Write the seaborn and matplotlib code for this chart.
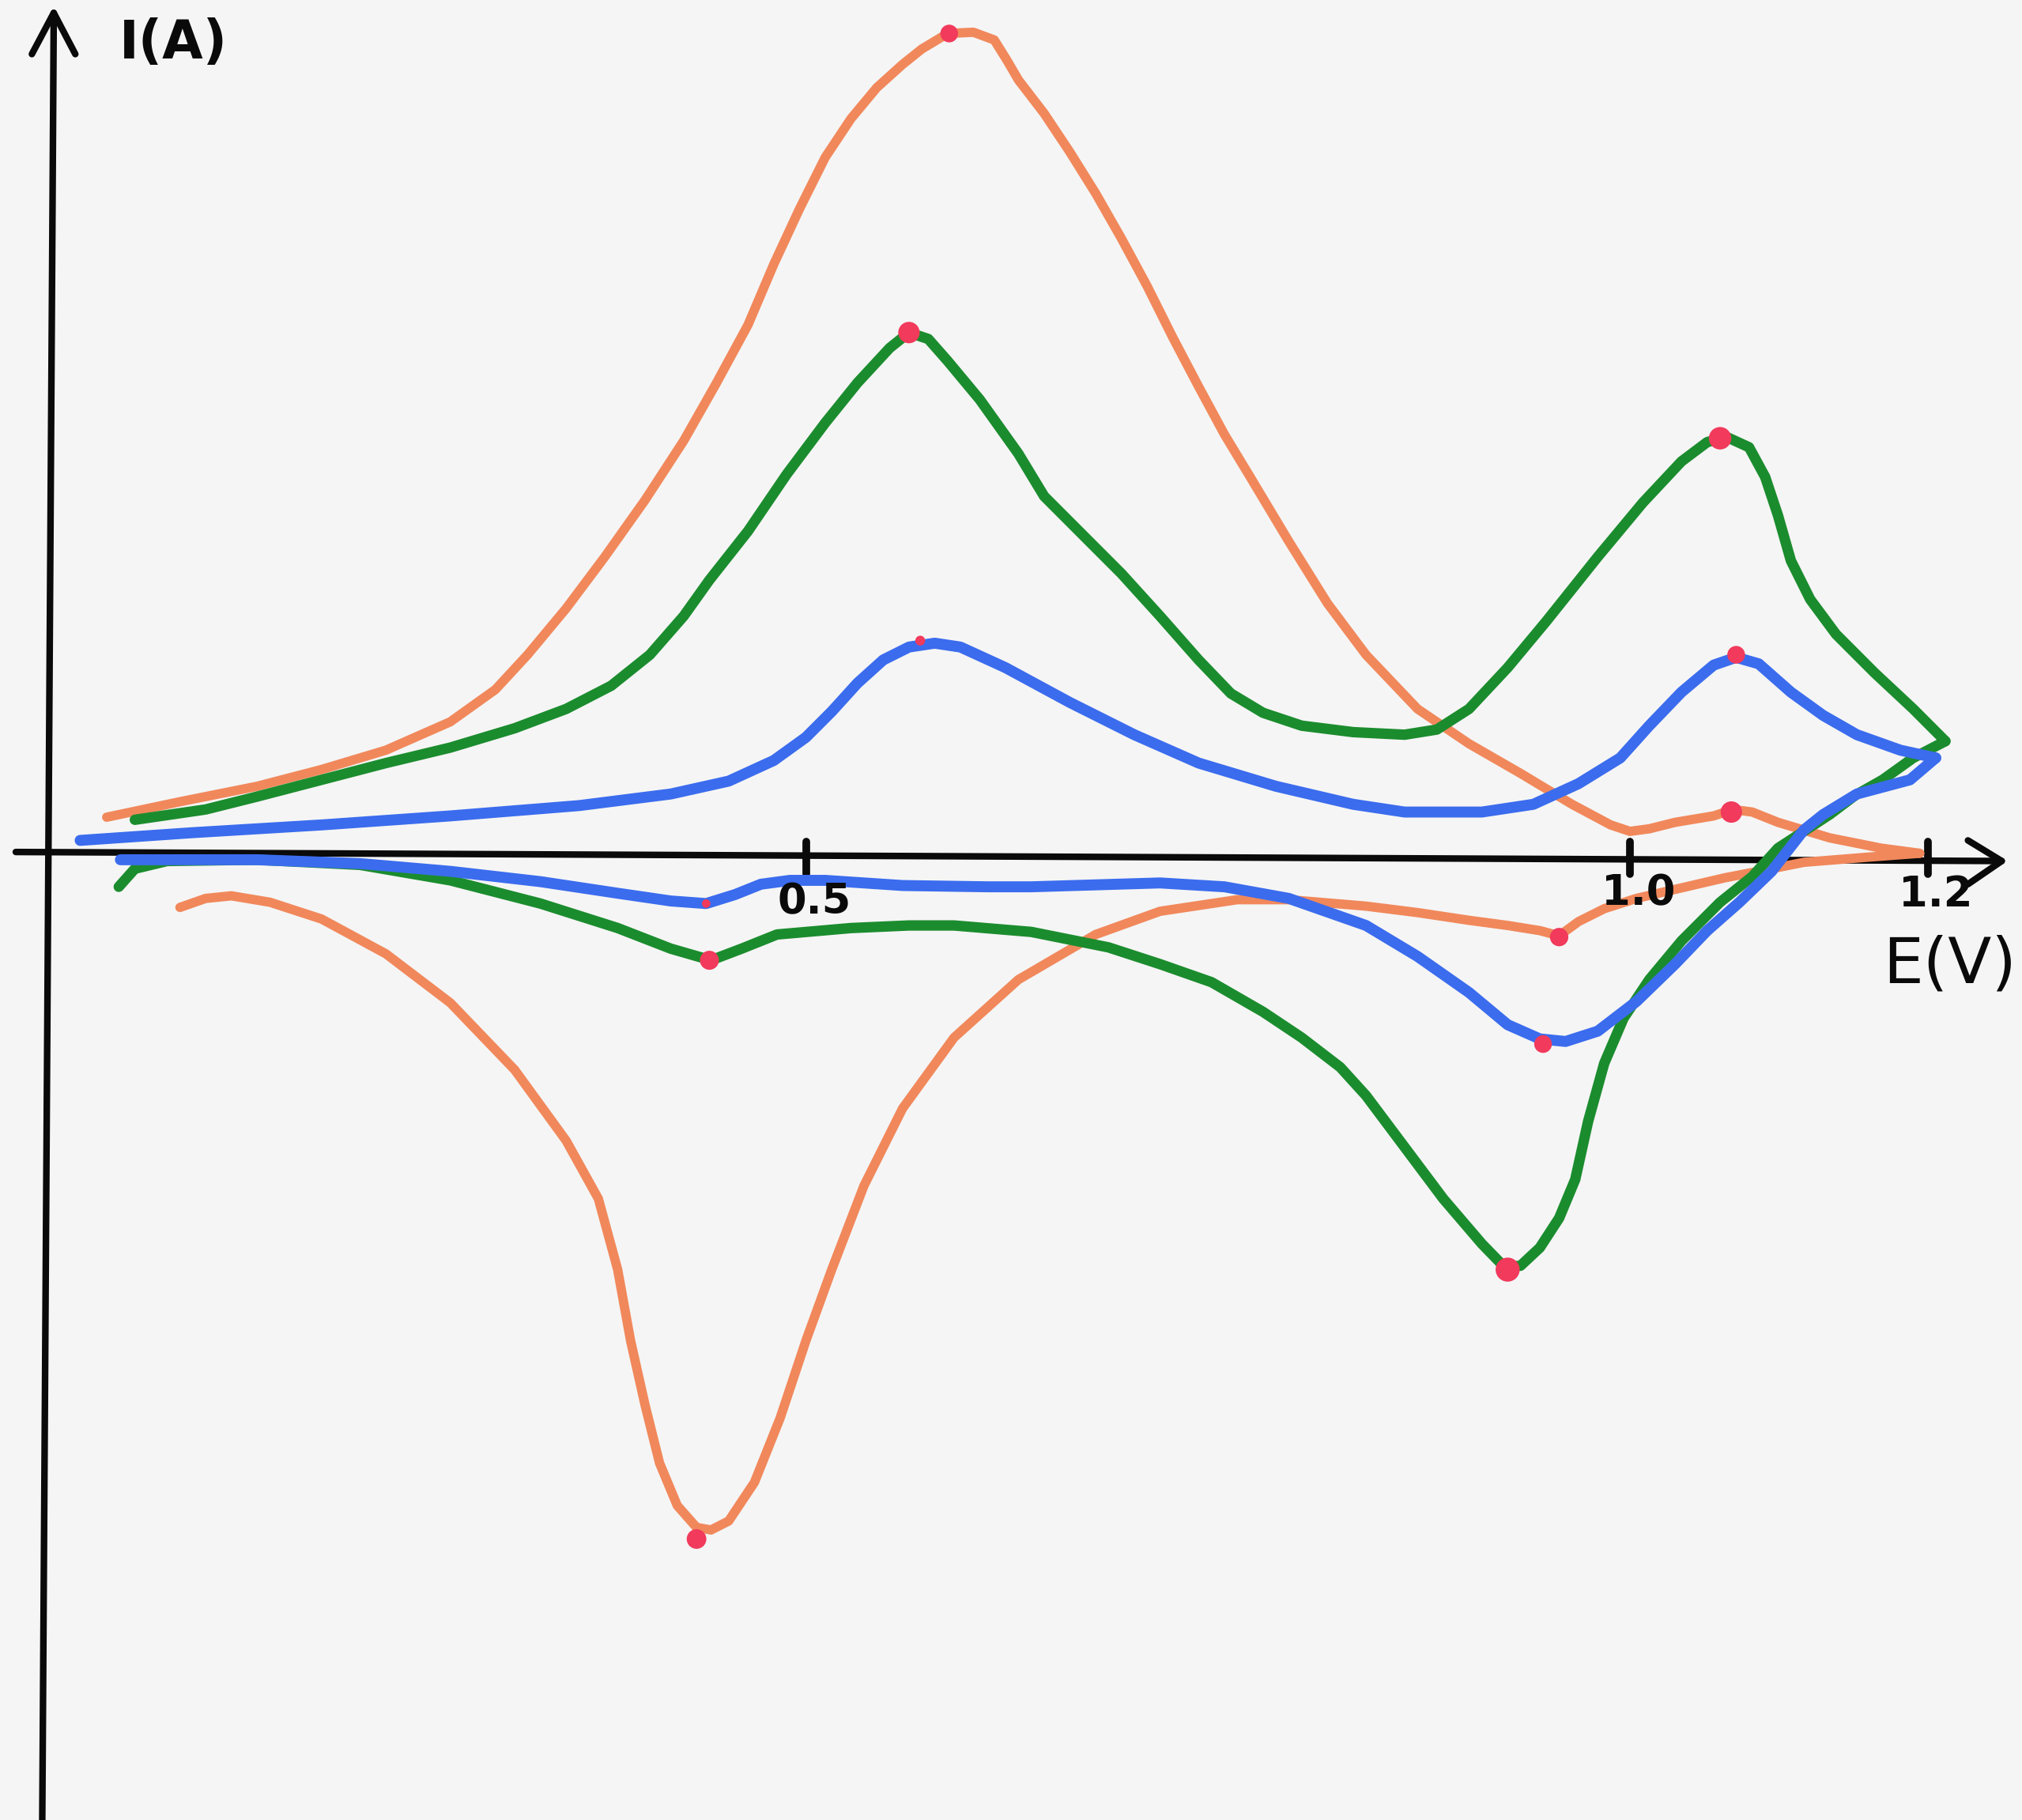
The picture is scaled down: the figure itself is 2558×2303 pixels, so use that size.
import matplotlib
matplotlib.use("Agg")
import numpy as np
import pandas as pd
import matplotlib.pyplot as plt
import seaborn as sns

# ---------------- data (E in V, I in arbitrary units) ----------------
orange_fwd_E = [0.0625, 0.108, 0.156, 0.196, 0.236, 0.276, 0.304, 0.324, 0.348, 0.372, 0.397, 0.421,
                0.441, 0.461, 0.477, 0.493, 0.509, 0.525, 0.541, 0.557, 0.569, 0.585, 0.601, 0.614,
                0.622, 0.629, 0.645, 0.661, 0.677, 0.693, 0.709, 0.725, 0.741, 0.757, 0.773, 0.797,
                0.821, 0.845, 0.877, 0.909, 0.941, 0.973, 0.997, 1.009, 1.021, 1.037, 1.061, 1.073,
                1.085, 1.101, 1.133, 1.165, 1.189]
orange_fwd_I = [0.29, 0.41, 0.53, 0.66, 0.81, 1.03, 1.28, 1.55, 1.91, 2.31, 2.75, 3.21,
                3.65, 4.11, 4.58, 5.01, 5.41, 5.71, 5.95, 6.13, 6.25, 6.37, 6.38, 6.32,
                6.16, 6.01, 5.75, 5.45, 5.13, 4.78, 4.41, 4.01, 3.63, 3.26, 2.93, 2.43,
                1.95, 1.55, 1.13, 0.86, 0.63, 0.39, 0.23, 0.18, 0.20, 0.25, 0.30, 0.35,
                0.33, 0.25, 0.13, 0.05, 0.01]
orange_rev_E = [1.189, 1.157, 1.117, 1.093, 1.068, 1.037, 1.013, 0.993, 0.977, 0.965, 0.953, 0.933,
                0.909, 0.877, 0.845, 0.797, 0.765, 0.717, 0.677, 0.629, 0.589, 0.557, 0.533, 0.513,
                0.497, 0.481, 0.465, 0.449, 0.438, 0.429, 0.417, 0.406, 0.397, 0.388, 0.380, 0.368,
                0.348, 0.316, 0.276, 0.236, 0.196, 0.164, 0.140, 0.124, 0.108]
orange_rev_I = [0.01, -0.02, -0.06, -0.12, -0.18, -0.27, -0.34, -0.42, -0.52, -0.63, -0.59, -0.55,
                -0.51, -0.45, -0.40, -0.35, -0.35, -0.44, -0.62, -0.97, -1.42, -1.97, -2.57, -3.22,
                -3.77, -4.37, -4.87, -5.17, -5.24, -5.22, -5.05, -4.72, -4.27, -3.77, -3.22, -2.67,
                -2.22, -1.67, -1.15, -0.77, -0.50, -0.37, -0.32, -0.34, -0.41]

green_fwd_E = [0.080, 0.124, 0.156, 0.196, 0.236, 0.276, 0.316, 0.348, 0.376, 0.400, 0.421, 0.437,
               0.461, 0.485, 0.509, 0.529, 0.549, 0.561, 0.573, 0.585, 0.605, 0.629, 0.645, 0.669,
               0.693, 0.717, 0.741, 0.761, 0.781, 0.805, 0.837, 0.869, 0.889, 0.909, 0.933, 0.957,
               0.989, 1.017, 1.041, 1.057, 1.069, 1.083, 1.093, 1.101, 1.109, 1.121, 1.137, 1.161,
               1.185, 1.205]
green_fwd_I = [0.27, 0.35, 0.45, 0.58, 0.71, 0.83, 0.98, 1.13, 1.31, 1.55, 1.85, 2.13,
               2.51, 2.95, 3.35, 3.66, 3.93, 4.05, 4.00, 3.83, 3.53, 3.11, 2.78, 2.48,
               2.18, 1.85, 1.51, 1.25, 1.10, 1.00, 0.95, 0.93, 0.97, 1.13, 1.45, 1.81,
               2.31, 2.73, 3.05, 3.20, 3.24, 3.16, 2.93, 2.63, 2.28, 1.98, 1.71, 1.41,
               1.13, 0.88]
green_rev_E = [1.205, 1.185, 1.166, 1.149, 1.133, 1.117, 1.101, 1.085, 1.065, 1.041, 1.021, 1.005,
               0.993, 0.983, 0.975, 0.965, 0.953, 0.941, 0.931, 0.917, 0.893, 0.869, 0.845, 0.829,
               0.805, 0.781, 0.749, 0.717, 0.685, 0.637, 0.589, 0.561, 0.525, 0.479, 0.457, 0.438,
               0.413, 0.380, 0.332, 0.276, 0.220, 0.156, 0.100, 0.080, 0.070]
green_rev_I = [0.88, 0.75, 0.58, 0.46, 0.31, 0.18, 0.05, -0.17, -0.37, -0.67, -0.97, -1.27,
               -1.62, -2.07, -2.52, -2.82, -3.05, -3.19, -3.20, -3.02, -2.67, -2.27, -1.87, -1.65,
               -1.42, -1.22, -0.99, -0.85, -0.72, -0.60, -0.55, -0.55, -0.57, -0.62, -0.73, -0.82,
               -0.73, -0.57, -0.38, -0.20, -0.08, -0.04, -0.05, -0.11, -0.25]

blue_fwd_E = [0.046, 0.116, 0.196, 0.276, 0.356, 0.413, 0.449, 0.477, 0.497, 0.513, 0.529, 0.545,
              0.561, 0.577, 0.593, 0.621, 0.661, 0.701, 0.741, 0.789, 0.837, 0.869, 0.917, 0.949,
              0.977, 1.003, 1.021, 1.041, 1.061, 1.075, 1.089, 1.109, 1.129, 1.150, 1.177, 1.199]
blue_fwd_I = [0.11, 0.17, 0.23, 0.30, 0.38, 0.47, 0.57, 0.73, 0.91, 1.11, 1.33, 1.51,
              1.61, 1.64, 1.61, 1.45, 1.18, 0.93, 0.71, 0.53, 0.39, 0.33, 0.33, 0.39,
              0.55, 0.75, 1.00, 1.26, 1.47, 1.53, 1.48, 1.26, 1.08, 0.93, 0.81, 0.75]
blue_rev_E = [1.199, 1.183, 1.150, 1.129, 1.117, 1.097, 1.077, 1.057, 1.037, 1.013, 0.989, 0.969,
              0.953, 0.933, 0.909, 0.877, 0.845, 0.797, 0.757, 0.717, 0.637, 0.610, 0.557, 0.509,
              0.487, 0.469, 0.453, 0.435, 0.413, 0.380, 0.332, 0.276, 0.220, 0.156, 0.071]
blue_rev_I = [0.75, 0.58, 0.47, 0.31, 0.19, -0.13, -0.37, -0.59, -0.85, -1.14, -1.37, -1.45,
              -1.43, -1.32, -1.07, -0.79, -0.55, -0.34, -0.25, -0.22, -0.25, -0.25, -0.24, -0.20,
              -0.20, -0.23, -0.31, -0.38, -0.36, -0.30, -0.21, -0.13, -0.07, -0.04, -0.04]

# peak markers
peak_E = [0.586, 1.072, 0.965, 0.429,
          0.561, 1.065, 0.933, 0.437,
          0.568, 1.075, 0.955, 0.435]
peak_I = [6.37, 0.33, -0.64, -5.31,
          4.05, 3.23, -3.22, -0.82,
          1.66, 1.55, -1.47, -0.38]
peak_size = [260, 380, 280, 320,
             380, 420, 480, 300,
             80, 260, 260, 60]

tick_pos = [0.497, 1.009, 1.194]
tick_labels = ["0.5", "1.0", "1.2"]
x_label = "E(V)"
y_label = "I(A)"

# ---------------- style ----------------
BG = "#F5F5F5"
ORANGE = "#F1885B"
GREEN = "#1B8C2E"
BLUE = "#3B6CEE"
RED = "#F13A5C"
INK = "#0A0A0A"

sns.set_theme(style="white")
plt.rcParams['font.family'] = ['DejaVu Sans']

fig = plt.figure(figsize=(25.58, 23.03), dpi=100, facecolor=BG)
ax = fig.add_axes([0, 0, 1, 1])
ax.set_facecolor(BG)
ax.set_xlim(-0.0038, 1.2526)
ax.set_ylim(-7.49, 6.63)
ax.axis('off')

# hand-drawn axes
AX_LW = 6
ax.plot([0.0296, 0.0224], [6.53, -7.60], color=INK, lw=AX_LW, solid_capstyle='round', zorder=1)
ax.plot([0.016, 0.0296, 0.043], [6.21, 6.53, 6.21], color=INK, lw=AX_LW,
        solid_capstyle='round', solid_joinstyle='round', zorder=1)
ax.plot([0.006, 1.240], [0.02, -0.05], color=INK, lw=AX_LW, solid_capstyle='round', zorder=1)
ax.plot([1.219, 1.240, 1.219], [0.11, -0.05, -0.23], color=INK, lw=AX_LW,
        solid_capstyle='round', solid_joinstyle='round', zorder=1)
for tp in tick_pos:
    ax.plot([tp, tp], [0.10, -0.15], color=INK, lw=7, solid_capstyle='round', zorder=1)

label_y = [-0.37, -0.30, -0.31]
for tp, tl, ly in zip(tick_pos, tick_labels, label_y):
    ax.text(tp + 0.005, ly, tl, ha='center', va='center', fontsize=38,
            fontweight='bold', color=INK, zorder=5)
ax.text(0.104, 6.29, y_label, ha='center', va='center', fontsize=48,
        fontweight='bold', color=INK)
ax.text(1.166, -0.86, x_label, ha='left', va='center', fontsize=58, color=INK)


def branch_df(E, I, name):
    return pd.DataFrame({"E": E, "I": I, "branch": name})


series = [
    (orange_fwd_E, orange_fwd_I, orange_rev_E, orange_rev_I, ORANGE, 8.5),
    (green_fwd_E, green_fwd_I, green_rev_E, green_rev_I, GREEN, 9.5),
    (blue_fwd_E, blue_fwd_I, blue_rev_E, blue_rev_I, BLUE, 10.0),
]
for fE, fI, rE, rI, col, lw in series:
    df = pd.concat([branch_df(fE, fI, "forward"), branch_df(rE, rI, "reverse")],
                   ignore_index=True)
    sns.lineplot(data=df, x="E", y="I", units="branch", estimator=None, sort=False,
                 color=col, linewidth=lw, legend=False, ax=ax,
                 solid_capstyle='round', solid_joinstyle='round', zorder=3)

peaks = pd.DataFrame({"E": peak_E, "I": peak_I})
sns.scatterplot(data=peaks, x="E", y="I", s=peak_size, color=RED, linewidth=0,
                legend=False, ax=ax, zorder=6)

ax.set_xlabel("")
ax.set_ylabel("")
ax.set_xlim(-0.0038, 1.2526)
ax.set_ylim(-7.49, 6.63)

fig.savefig("out.png", dpi=100, facecolor=BG)
